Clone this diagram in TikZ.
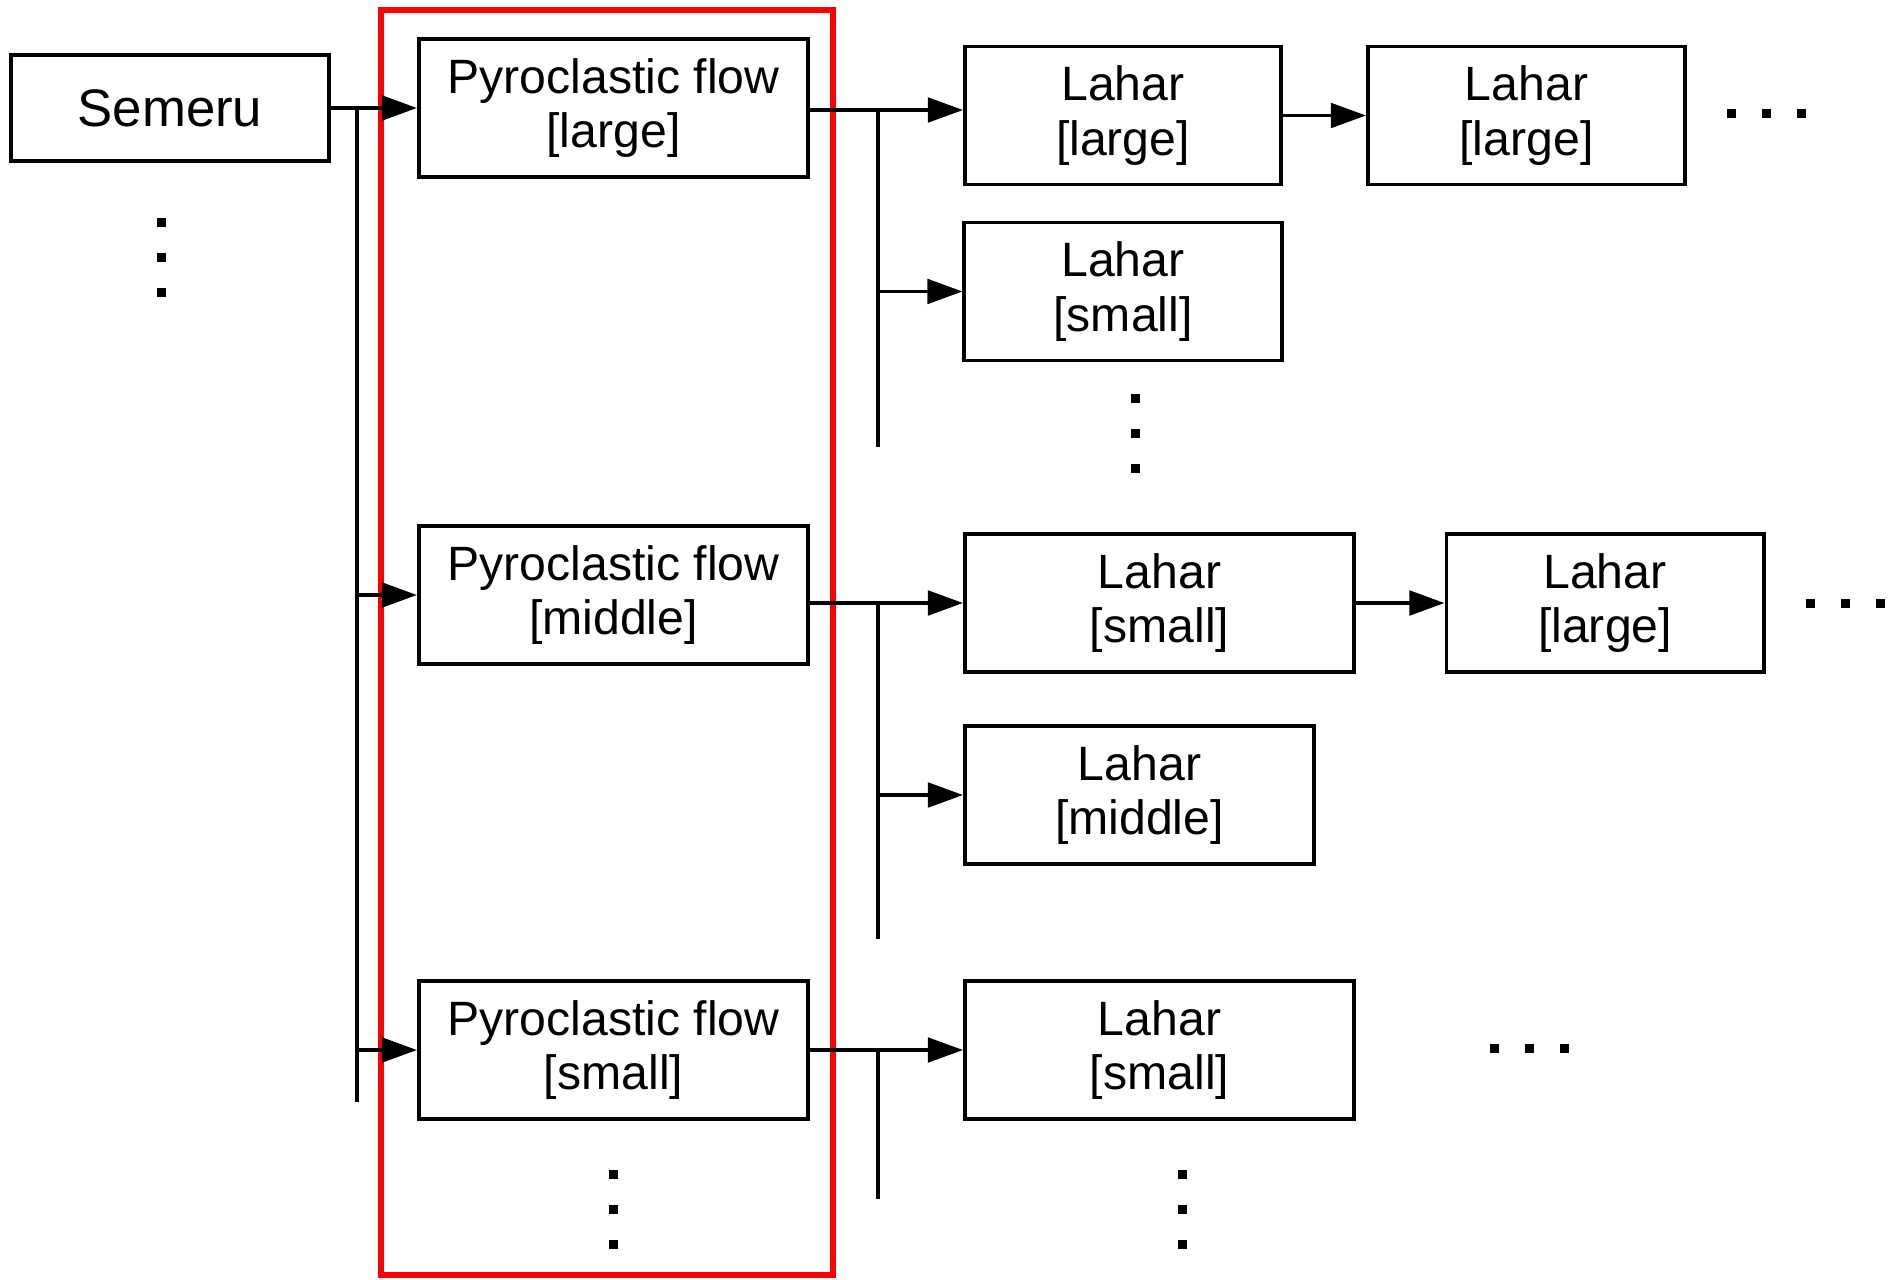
\documentclass[tikz,border=0pt]{standalone}
\usepackage{fontspec}
\setmainfont{Liberation Sans}
\usetikzlibrary{arrows.meta}

\begin{document}
\begin{tikzpicture}[x=0.01cm, y=-0.01cm,
    box/.style={draw, line width=1.1pt, inner sep=0pt, align=center, minimum height=1.38cm, font=\fontsize{13.7}{15.6}\selectfont},
    link/.style={line width=1pt},
    arr/.style={link, -{Triangle[length=10pt, width=7pt]}}]
    \useasboundingbox (0,0) rectangle (1901,1279);
    \draw[red, line width=1.9pt] (381,10) rectangle (833,1275);
    \node[box, minimum width=3.17cm, minimum height=1.06cm, font=\fontsize{15}{18}\selectfont] (semeru) at (170,108) {Semeru};
    \node[box, minimum width=3.89cm] (pyroL) at (613.5,108) {Pyroclastic flow\\{}[large]};
    \node[box, minimum width=3.89cm] (pyroM) at (613.5,595) {Pyroclastic flow\\{}[middle]};
    \node[box, minimum width=3.89cm] (pyroS) at (613.5,1050) {Pyroclastic flow\\{}[small]};
    \node[box, minimum width=3.16cm] (lahL1) at (1123,115.5) {Lahar\\{}[large]};
    \node[box, minimum width=3.17cm] (lahL2) at (1526.5,115.5) {Lahar\\{}[large]};
    \node[box, minimum width=3.17cm] (lahS1) at (1123,291.5) {Lahar\\{}[small]};
    \node[box, minimum width=3.89cm] (lahS2) at (1159.5,603) {Lahar\\{}[small]};
    \node[box, minimum width=3.17cm] (lahL3) at (1605,603) {Lahar\\{}[large]};
    \node[box, minimum width=3.49cm] (lahM) at (1139.5,795) {Lahar\\{}[middle]};
    \node[box, minimum width=3.89cm] (lahS3) at (1159.5,1050) {Lahar\\{}[small]};
    \coordinate (t1top) at (357,108);
    \coordinate (t1bot) at (357,1102);
    \coordinate (t2a) at (878,110);
    \coordinate (t2b) at (878,447);
    \coordinate (t2c) at (878,603);
    \coordinate (t2d) at (878,939);
    \coordinate (t2e) at (878,1050);
    \coordinate (t2f) at (878,1199);
    \draw[arr] (semeru) -- (pyroL);
    \draw[link] (t1top) -- (t1bot);
    \draw[arr] (t1top |- pyroM.west) -- (pyroM.west);
    \draw[arr] (t1top |- pyroS.west) -- (pyroS.west);
    \draw[arr] (pyroL.east |- t2a) -- (t2a -| lahL1.west);
    \draw[arr] (lahL1) -- (lahL2);
    \draw[link] (t2a) -- (t2b);
    \draw[arr] (t2a |- lahS1.west) -- (lahS1.west);
    \draw[arr] (pyroM.east |- lahS2.west) -- (lahS2.west);
    \draw[arr] (lahS2) -- (lahL3);
    \draw[link] (t2c) -- (t2d);
    \draw[arr] (t2c |- lahM.west) -- (lahM.west);
    \draw[arr] (pyroS) -- (lahS3);
    \draw[link] (t2e) -- (t2f);
    \foreach \x/\y in {161/257, 1135/433, 613/1209, 1182/1209}
        \foreach \d in {-35,0,35}
            \fill (\x-4.5,\y+\d-4.5) rectangle +(9,9);
    \foreach \x/\y in {1766/114, 1845/603, 1529/1048}
        \foreach \d in {-35,0,35}
            \fill (\x+\d-4.5,\y-4.5) rectangle +(9,9);
\end{tikzpicture}
\end{document}
